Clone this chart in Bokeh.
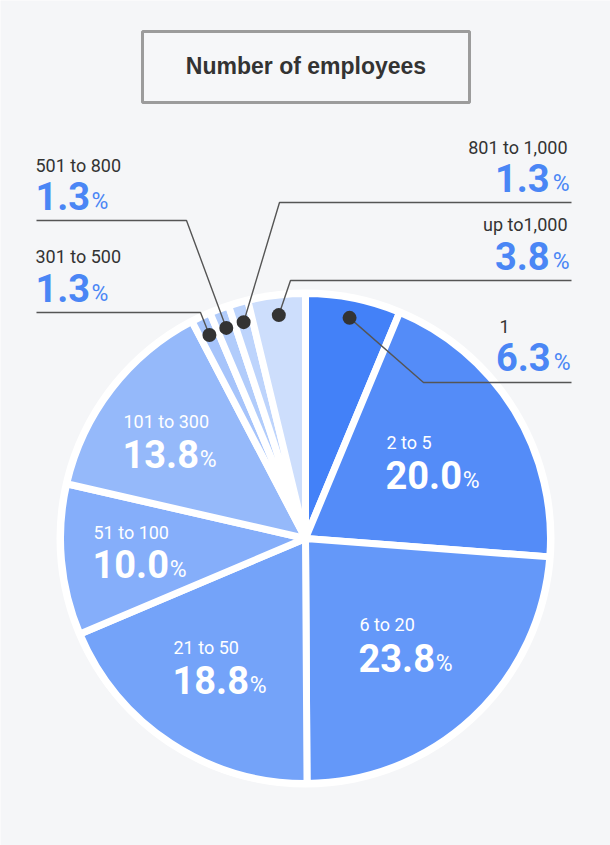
import numpy as np
from bokeh.plotting import figure
from bokeh.models import Range1d
from bokeh.core.properties import value
from bokeh.embed import file_html
from bokeh.resources import INLINE

# ---------------- data ----------------
title_text = "Number of employees"
categories = ["1", "2 to 5", "6 to 20", "21 to 50", "51 to 100", "101 to 300",
              "301 to 500", "501 to 800", "801 to 1,000", "up to1,000"]
percents = [6.3, 20.0, 23.8, 18.8, 10.0, 13.8, 1.3, 1.3, 1.3, 3.8]
slice_colors = ["#4381F8", "#548CF8", "#6498F9", "#74A3F9", "#85AEFA",
                "#95B9FA", "#A6C4FB", "#B1CCFB", "#BDD4FC", "#CDDEFC"]

# ---------------- layout / style ----------------
W, H = 610, 845
BG = "#F5F6F8"
BLUE_TXT = "#4A86F5"
DARK = "#333333"
NUM_FONT = "Roboto"
CAT_SIZE = 18
NUM_SIZE = 38
PCT_SIZE = 23
CAP_MID = 0.355  # cap-height middle above baseline, in em


def Y(y):
    return H - y


def TY(baseline, size):
    # y of the text's vertical middle for a given baseline (screen px)
    return Y(baseline - CAP_MID * size)


cx, cy = 305, 538
R = 245

# inside labels: index -> (left x, category baseline, value baseline)
inside = {1: (386, 448, 488), 2: (359, 630, 671), 3: (173, 653, 693),
          4: (93, 538, 577), 5: (123, 427, 467)}
# outside labels: index -> dict
outside = {
    0: dict(cat=(499, 332, "left"), val_y=370, right=570, corner=(423, 382), end=571),
    9: dict(cat=(567, 230, "right"), val_y=269, right=569, corner=(290, 280), end=571),
    8: dict(cat=(567, 153, "right"), val_y=191, right=569, corner=(279, 202), end=571),
    7: dict(cat=(35, 171, "left"), val_y=209, left=35, corner=(186, 220), end=36),
    6: dict(cat=(35, 262, "left"), val_y=301, left=35, corner=(200, 312), end=36),
}

BOLD_W = {d: 0.5615 for d in "0123456789"}
BOLD_W["."] = 0.27
PCT_W = 0.733 * PCT_SIZE


def num_w(s):
    return sum(BOLD_W[c] for c in s) * NUM_SIZE


p = figure(width=W, height=H, output_backend="svg", toolbar_location=None,
           x_range=Range1d(0, W), y_range=Range1d(0, H), min_border=0)
p.axis.visible = False
p.grid.visible = False
p.outline_line_color = None
p.background_fill_color = BG
p.border_fill_color = BG


def txt(x, baseline, s, size, color, align="left", bold=False, font=NUM_FONT):
    p.text(x=[x], y=[TY(baseline, size)], text=[s], text_align=align,
           text_baseline="middle", text_font=value(font),
           text_font_style="bold" if bold else "normal",
           text_font_size=f"{size}px", text_color=color)


# title box
p.quad(left=[142], right=[469], top=[Y(31)], bottom=[Y(102)],
       fill_color="#F6F7F9", line_color="#9C9C9C", line_width=3)
txt(305.5, 74, title_text, 23, DARK, align="center", bold=True,
    font="Liberation Sans")

# pie
frac = np.array(percents) / sum(percents)
cum = np.concatenate([[0.0], np.cumsum(frac)])
start = np.pi / 2 - cum[1:] * 2 * np.pi
end = np.pi / 2 - cum[:-1] * 2 * np.pi
mid = (start + end) / 2
n = len(percents)

p.circle(x=[cx], y=[Y(cy)], radius=249, fill_color="white", line_color=None)
p.wedge(x=[cx] * n, y=[Y(cy)] * n, radius=R, start_angle=list(start),
        end_angle=list(end), fill_color=slice_colors, line_color="white",
        line_width=7, line_join="round")

val_str = [f"{v:.1f}" for v in percents]

# inside labels
for i, (lx, cb, vb) in inside.items():
    txt(lx, cb, categories[i], CAT_SIZE, "white")
    txt(lx - 1, vb, val_str[i], NUM_SIZE, "white", bold=True)
    txt(lx - 1 + num_w(val_str[i]) + 3, vb, "%", PCT_SIZE, "white")

# outside labels, leader lines and dots
DOT_R = 225
for i, o in outside.items():
    dx = cx + DOT_R * np.cos(mid[i])
    dy = Y(cy) + DOT_R * np.sin(mid[i])
    kx, ky = o["corner"]
    p.line(x=[dx, kx, o["end"]], y=[dy, Y(ky), Y(ky)], line_color="#555555",
           line_width=1.4)
    p.scatter(x=[dx], y=[dy], size=14, marker="circle", fill_color="#333333",
              line_color=None)
    tx, tb, ta = o["cat"]
    txt(tx, tb, categories[i], CAT_SIZE, DARK, align=ta)
    if "right" in o:
        px_ = o["right"]
        txt(px_, o["val_y"], "%", PCT_SIZE, BLUE_TXT, align="right")
        txt(px_ - PCT_W - 3, o["val_y"], val_str[i], NUM_SIZE, BLUE_TXT,
            align="right", bold=True)
    else:
        lx = o["left"]
        txt(lx, o["val_y"], val_str[i], NUM_SIZE, BLUE_TXT, bold=True)
        txt(lx + num_w(val_str[i]) + 3, o["val_y"], "%", PCT_SIZE, BLUE_TXT)

open("out.html", "w").write(file_html(p, INLINE))
